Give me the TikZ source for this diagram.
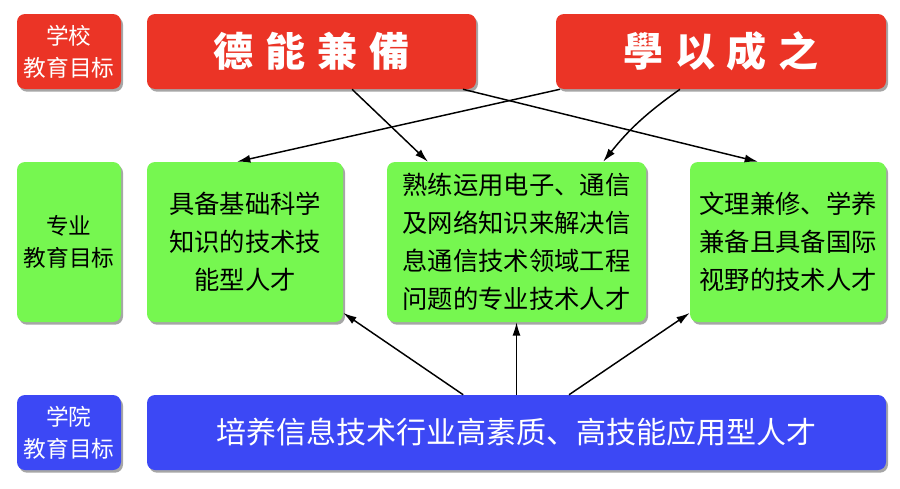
\documentclass[tikz,border=0pt]{standalone}
\usepackage{fontspec}
\newfontfamily\cjk{Noto Sans CJK SC}
\newfontfamily\cjkwide[WordSpace=1.3]{Noto Sans CJK SC}
\usetikzlibrary{shadows, arrows.meta}

\definecolor{goalred}{RGB}{235,52,38}
\definecolor{goalgreen}{RGB}{118,247,80}
\definecolor{goalblue}{RGB}{60,72,245}

\begin{document}
\begin{tikzpicture}[
   x=.75pt, y=-.75pt,
   box/.style={
     fill=#1,
     draw=none,
     rounded corners=6pt,
     inner sep=0pt,
     align=center,
     drop shadow={shadow xshift=1.5pt, shadow yshift=-2pt,
                  opacity=.35, fill=black},
    },
   tag/.style={
     minimum width=78pt,
     font=\cjk\fontsize{17}{24}\selectfont,
    },
   motto/.style={
     minimum height=56.25pt,
     text=white,
     font=\cjkwide\bfseries\fontsize{30}{36}\selectfont,
    },
   aim/.style={
     minimum height=120pt,
     font=\cjk\fontsize{19}{28.5}\selectfont,
    },
   link/.style={
     line width=1.1pt,
     -{Latex[length=10pt,width=6pt]},
    },
  ]
\useasboundingbox (0,0) rectangle (900,489);

% school level
\node[box=goalred, tag, text=white, minimum height=56.25pt] (school) at (69,51.5) {学校\\教育目标};
\node[box=goalred, motto, minimum width=246.75pt] (de) at (311.5,51.5) {德 能 兼 備};
\node[box=goalred, motto, minimum width=247.5pt] (xue) at (721,51.5) {學 以 成 之};

% major level
\node[box=goalgreen, tag, minimum height=120pt] (major) at (69,242) {专业\\教育目标};
\node[box=goalgreen, aim, minimum width=147pt] (m1) at (245,242) {具备基础科学\\知识的技术技\\能型人才};
\node[box=goalgreen, aim, minimum width=194.25pt] (m2) at (516.5,242) {熟练运用电子、通信\\及网络知识来解决信\\息通信技术领域工程\\问题的专业技术人才};
\node[box=goalgreen, aim, minimum width=147pt] (m3) at (788,242) {文理兼修、学养\\兼备且具备国际\\视野的技术人才};

% college level
\node[box=goalblue, tag, text=white, minimum height=56.25pt] (college) at (69,432.5) {学院\\教育目标};
\node[box=goalblue, minimum width=554.25pt, minimum height=56.25pt, text=white,
      font=\cjk\fontsize{22.5}{26}\selectfont] (c) at (516.5,432.5) {培养信息技术行业高素质、高技能应用型人才};

\draw[link] ([xshift=30.4pt]de.south) -- ([xshift=-66.4pt]m2.north);
\draw[link] ([xshift=113.6pt]de.south) -- ([xshift=-22.5pt]m3.north);
\draw[link] ([xshift=-120.75pt]xue.south) -- ([xshift=-6pt]m1.north);
\draw[link] ([xshift=-30.75pt]xue.south) to[bend right=8] ([xshift=65pt]m2.north);
\draw[link] ([xshift=-40pt]c.north) -- ([yshift=7pt]m1.south east);
\draw[link] (c.north) -- (m2.south);
\draw[link] ([xshift=39.4pt]c.north) -- ([yshift=7pt]m3.south west);
\end{tikzpicture}
\end{document}
